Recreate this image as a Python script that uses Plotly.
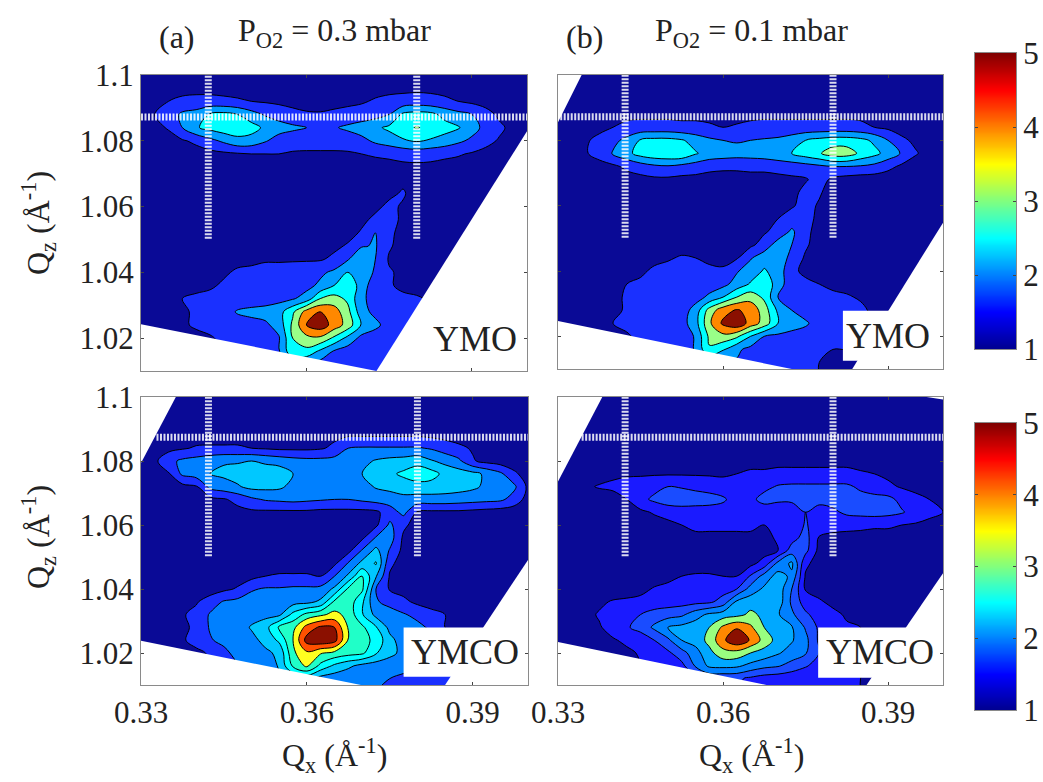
import plotly.graph_objects as go

W, H = 1043, 782
FONT = "Liberation Serif"

# grid of the maps: z rows are listed from the top of the panel (1.100) downward
qx = [round(0.33 + 0.0025 * i, 4) for i in range(29)]
qz = [round(1.008 + 0.004 * j, 3) for j in range(24)]

# values are in tenths of a contour step: 10 = first black line, 20 = second, ...
a_rows = [
[4,4,4,4,4,4,4,4,4,4,4,4,4,4,4,4,4,4,4,4,4,4,4,4,4,4,4,4,4],
[4,4,6,7,7,7,7,7,6,5,5,4,4,4,4,5,6,7,8,8,8,8,7,6,5,4,4,4,4],
[4,6,10,12,13,13,12,11,10,9,8,7,7,6,7,8,9,11,12,13,14,13,12,10,8,6,4,4,4],
[5,10,14,22,24,31,33,30,24,19,16,13,11,11,12,13,14,16,20,32,34,33,27,23,20,14,8,5,4],
[4,7,11,20,29,33,36,36,34,28,24,22,20,16,19,22,25,28,32,35,41,36,34,31,24,17,12,7,4],
[3,4,6,9,12,17,22,27,26,21,16,14,13,13,13,14,17,22,25,29,31,29,26,22,18,13,9,5,4],
[3,4,4,5,6,7,8,9,10,10,10,9,9,9,9,9,10,11,12,13,14,13,12,11,9,7,5,4,4],
[3,3,3,4,4,5,5,6,6,6,6,6,6,6,6,6,6,7,7,8,8,8,7,6,5,4,4,4,4],
[3,3,3,3,3,3,3,4,4,4,4,4,4,4,4,4,4,5,6,8,6,5,4,4,4,4,4,4,4],
[3,3,3,3,3,3,3,4,4,4,4,4,4,4,4,4,5,6,8,11,6,5,4,4,4,4,4,4,4],
[3,3,3,3,3,3,3,4,4,4,4,4,4,4,4,5,6,8,12,9,6,5,4,4,4,4,4,4,4],
[3,3,3,3,3,3,3,4,4,4,4,4,4,4,5,6,8,12,14,8,5,4,4,4,4,4,4,4,4],
[3,3,3,3,3,3,3,4,4,4,4,4,4,5,6,7,11,20,12,7,5,4,4,4,4,4,4,4,4],
[3,3,3,3,3,3,4,4,4,4,4,4,5,6,8,11,19,21,11,7,5,4,4,4,4,4,4,4,4],
[3,3,3,3,3,4,7,8,8,9,9,9,9,9,12,19,30,20,9,7,5,4,4,4,4,4,4,4,4],
[3,3,3,3,4,6,9,11,12,13,13,14,15,18,22,30,29,18,11,8,7,6,5,5,5,5,5,5,5],
[3,3,3,4,7,9,11,12,13,13,14,15,17,22,30,39,25,14,11,8,7,6,5,5,5,5,5,5,5],
[3,4,6,10,12,12,13,14,14,15,17,19,24,40,44,38,22,16,14,12,11,9,7,7,7,7,7,7,7],
[3,5,7,9,11,13,15,21,23,24,26,38,54,60,55,43,24,17,14,12,11,11,10,9,9,9,9,9,9],
[4,5,7,9,11,13,14,15,16,18,24,42,60,66,56,46,29,23,15,12,11,10,10,10,10,10,10,10,10],
[8,8,8,8,8,9,12,13,14,16,19,40,47,48,38,27,17,14,12,11,9,9,9,9,9,9,9,9,9],
[8,8,8,8,8,8,10,12,13,15,19,38,37,28,19,15,13,12,11,8,8,8,8,8,8,8,8,8,8],
[8,8,8,8,8,8,8,10,12,14,16,20,20,16,14,13,12,11,9,8,8,8,8,8,8,8,8,8,8],
[8,8,8,8,8,8,8,8,10,12,14,16,16,14,13,12,12,11,9,8,8,8,8,8,8,8,8,8,8],
]
b_rows = [
[4,4,4,4,4,4,4,4,4,4,4,4,4,4,4,4,4,4,4,4,4,4,4,4,4,4,4,4,4],
[4,4,4,4,4,4,4,4,4,4,4,4,4,4,4,4,4,4,4,4,4,4,4,4,4,4,4,4,4],
[4,4,4,4,5,5,5,5,5,5,5,5,5,5,5,5,5,5,5,6,6,6,5,5,4,4,4,4,4],
[4,4,4,5,7,8,8,8,8,8,8,8,7,7,8,8,8,8,8,8,8,8,8,7,5,4,4,4,4],
[4,4,6,8,10,12,13,13,13,12,12,11,10,11,12,13,13,13,13,13,13,13,12,10,8,6,4,4,4],
[4,5,9,12,17,23,31,33,33,31,26,22,20,19,20,21,22,25,30,33,35,35,33,28,20,12,8,5,4],
[4,6,9,14,21,27,34,37,38,38,31,26,25,24,24,25,27,30,35,39,45,45,38,33,26,19,11,6,4],
[4,4,5,6,8,12,15,18,19,17,15,13,12,12,13,13,14,15,16,18,20,20,19,17,13,8,5,4,4],
[4,4,4,4,5,6,7,8,8,7,7,6,6,6,6,6,7,8,9,14,8,6,5,5,4,4,4,4,4],
[4,4,4,4,4,4,4,4,4,4,4,4,4,4,5,5,6,7,13,11,6,5,4,4,4,4,4,4,4],
[4,4,4,4,4,4,4,4,4,4,4,4,4,4,4,5,6,9,13,9,5,4,4,4,4,4,4,4,4],
[4,4,4,4,4,4,4,4,4,4,4,4,4,4,5,7,10,14,13,8,5,4,4,4,4,4,4,4,4],
[4,4,4,4,4,4,4,4,4,4,4,4,4,5,6,9,13,22,12,7,5,4,4,4,4,4,4,4,4],
[4,4,4,4,4,4,4,4,5,6,6,6,5,6,8,14,25,20,11,7,5,4,4,4,4,4,4,4,4],
[4,4,4,4,4,5,6,7,9,11,10,9,8,9,19,26,30,15,9,6,5,4,4,4,4,4,4,4,4],
[4,4,4,4,5,6,8,12,13,14,13,11,11,19,25,31,26,12,8,7,6,5,4,4,4,4,4,4,4],
[4,4,4,5,7,10,12,13,13,14,14,15,17,24,31,39,24,15,12,10,8,7,6,5,4,4,4,4,4],
[4,4,5,6,8,11,13,14,14,14,16,22,30,40,46,38,20,17,15,13,12,11,9,7,5,5,5,5,5],
[4,4,5,6,8,11,13,14,14,15,24,44,56,61,57,45,28,20,17,15,14,13,12,8,6,6,6,6,6],
[4,5,6,7,10,12,13,14,14,16,26,48,62,68,56,46,30,24,21,17,14,13,12,9,7,7,7,7,7],
[6,6,6,7,8,9,12,13,14,14,21,42,47,42,30,20,18,17,17,15,13,12,11,9,7,7,7,7,7],
[6,6,6,7,8,9,10,12,13,14,21,39,31,22,17,15,14,14,13,12,10,10,9,8,7,7,7,7,7],
[6,6,6,7,8,9,10,11,12,13,16,20,20,19,14,13,13,12,11,10,9,8,7,7,7,7,7,7,7],
[6,6,6,7,8,9,10,11,12,13,14,16,16,15,14,13,13,12,11,10,8,7,7,7,7,7,7,7,7],
]
c_rows = [
[4,4,4,4,4,4,4,4,4,4,4,4,4,4,4,4,4,4,4,4,4,4,4,4,4,4,4,4,4],
[4,4,4,4,4,4,4,4,4,4,4,4,4,4,4,4,4,4,4,4,4,4,4,4,4,4,4,4,4],
[4,4,4,4,4,4,5,5,5,5,5,4,4,5,5,5,5,5,5,5,5,5,5,4,4,4,4,4,4],
[4,4,4,5,6,7,7,7,7,6,6,6,6,7,8,9,9,9,9,9,9,8,7,6,5,4,4,4,4],
[4,4,7,9,11,11,11,11,10,9,8,8,8,9,12,20,21,21,21,21,21,19,15,12,9,6,5,4,4],
[4,8,17,22,24,27,29,29,30,28,26,24,23,23,24,25,27,31,33,34,36,31,27,22,11,7,5,4,4],
[4,6,9,22,25,30,32,34,35,36,36,30,26,25,25,26,30,34,38,42,46,44,37,35,33,28,22,12,5],
[4,4,5,7,9,23,26,29,33,33,32,27,25,24,24,24,26,31,33,35,36,36,35,34,32,28,26,22,8],
[4,4,4,4,5,7,9,13,18,21,22,23,22,21,20,20,22,24,25,27,26,26,26,25,24,23,22,16,6],
[4,4,4,4,4,5,6,7,8,8,8,8,8,7,7,7,7,8,15,23,9,8,8,8,7,6,5,4,4],
[4,4,4,4,4,4,4,4,4,4,4,5,5,5,5,5,6,8,22,12,6,5,4,4,4,4,4,4,4],
[4,4,4,4,4,4,4,4,4,4,4,4,4,5,5,6,8,21,25,8,5,4,4,4,4,4,4,4,4],
[4,4,4,4,4,4,4,4,4,4,4,4,4,5,6,7,21,33,19,7,5,4,4,4,4,4,4,4,4],
[4,4,4,4,4,4,4,4,5,6,6,6,6,6,8,21,33,41,12,6,5,4,4,4,4,4,4,4,4],
[4,4,4,4,4,4,5,6,7,10,11,11,11,10,20,32,50,31,9,6,5,4,4,4,4,4,4,4,4],
[4,4,4,4,4,5,8,11,19,21,21,22,22,23,32,52,52,20,9,7,5,4,4,4,4,4,4,4,4],
[4,4,4,6,9,15,21,23,24,24,25,26,27,32,52,56,42,21,17,12,8,6,5,4,4,4,4,4,4],
[4,4,6,9,13,21,24,25,26,27,28,43,53,58,63,57,41,27,24,21,17,13,10,7,5,4,4,4,4],
[4,5,6,8,12,21,24,25,31,36,52,57,74,82,80,59,52,41,27,25,23,18,10,8,6,5,4,4,4],
[6,6,7,9,13,19,23,26,27,33,42,60,84,88,84,59,54,47,33,25,24,23,20,12,8,6,5,4,4],
[6,6,6,7,8,11,17,24,27,28,32,58,68,61,57,54,52,41,33,27,24,22,20,13,8,6,5,4,4],
[6,6,6,7,8,10,14,20,24,24,31,52,62,47,38,32,27,25,24,23,22,20,14,11,8,6,5,4,4],
[6,6,6,7,8,10,14,20,24,24,28,30,33,26,24,23,22,21,20,18,14,13,12,9,7,6,5,4,4],
[6,6,6,7,8,10,14,20,24,24,26,28,28,25,23,22,21,20,19,16,13,12,11,8,7,6,5,4,4],
]
d_rows = [
[4,4,4,4,4,4,4,4,4,4,4,4,4,4,4,4,4,4,4,4,4,4,4,4,4,4,4,4,4],
[4,4,4,4,4,4,4,4,4,4,4,4,4,4,4,4,4,4,4,4,4,4,4,4,4,4,4,4,4],
[4,4,4,4,4,4,4,4,4,4,4,4,4,4,4,4,4,4,4,4,4,4,4,4,4,4,4,4,4],
[4,4,4,4,4,4,4,4,4,4,4,4,4,4,4,5,5,5,5,5,5,5,4,4,4,4,4,4,4],
[4,4,4,4,4,4,5,5,5,5,5,5,5,5,6,6,7,7,7,7,7,7,6,5,4,4,4,4,4],
[4,4,4,4,5,6,6,6,6,6,6,6,6,7,8,8,8,8,8,8,8,8,7,6,5,4,4,4,4],
[3,3,3,5,8,9,9,9,9,9,9,9,9,10,11,11,12,12,12,12,12,12,11,10,8,7,5,4,4],
[3,4,8,11,12,13,14,17,20,19,17,15,13,13,13,17,21,22,22,22,22,22,18,14,12,9,7,5,4],
[3,3,3,4,6,10,17,22,26,27,26,25,22,14,17,24,22,22,22,23,24,24,24,24,23,17,13,10,5],
[3,3,3,3,4,5,8,11,13,14,14,14,14,13,13,13,13,14,20,16,18,22,23,24,23,21,16,13,10],
[3,3,3,3,3,4,5,6,8,10,12,12,12,12,12,10,11,13,21,15,13,13,13,12,12,10,9,7,6],
[3,3,3,3,3,3,4,5,7,7,8,8,8,8,8,8,11,16,24,9,8,7,6,5,5,4,4,4,4],
[3,3,3,3,3,3,4,4,5,5,5,5,5,5,5,6,10,25,23,7,5,4,4,4,4,4,4,4,4],
[3,3,3,3,3,3,4,4,5,5,6,6,6,6,7,14,33,42,12,6,5,4,4,4,4,4,4,4,4],
[3,3,3,3,3,4,4,5,7,10,11,11,10,10,21,34,44,38,9,6,5,4,4,4,4,4,4,4,4],
[3,3,3,3,4,5,7,11,13,13,14,15,16,20,34,42,46,30,9,7,5,4,4,4,4,4,4,4,4],
[3,3,4,8,11,12,13,14,15,16,17,18,24,42,46,47,46,28,15,11,8,6,5,4,4,4,4,4,4],
[3,4,7,11,13,16,20,24,26,28,36,42,45,47,52,48,41,32,22,15,12,9,7,5,4,4,4,4,4],
[3,5,7,9,14,19,23,32,40,43,45,50,62,69,62,50,43,41,29,18,13,11,10,8,5,4,4,4,4],
[4,5,6,7,9,12,15,20,28,40,44,53,68,78,69,56,46,41,33,18,13,11,10,8,5,4,4,4,4],
[6,6,6,7,8,8,11,14,18,26,36,47,56,56,50,46,41,36,31,20,15,12,10,8,5,4,4,4,4],
[6,6,6,7,8,8,10,12,14,17,31,42,43,42,37,33,31,26,21,16,13,12,11,8,5,4,4,4,4],
[6,6,6,7,8,8,10,12,14,16,20,22,22,22,18,15,14,13,12,11,11,11,10,8,5,4,4,4,4],
[6,6,6,7,8,8,10,12,14,16,20,22,22,21,17,15,14,13,12,11,11,11,10,8,5,4,4,4,4],
]

# filled band colours, one per interval between contour lines
a_bands = ["#0a0a96", "#1a30ff", "#009cff", "#00ffff", "#99ff88", "#ff8800", "#8b1000"]
b_bands = ["#0a0a96", "#1a30ff", "#009cff", "#00ffff", "#99ff88", "#ff8800", "#8b1000"]
c_bands = ["#0a0a96", "#1a30ff", "#0080ff", "#00c8ff", "#00ffff", "#20ffc8", "#ffff20", "#ff5000", "#8b1000"]
d_bands = ["#0a0a96", "#1a1aff", "#1a4cff", "#0080ff", "#00a8ff", "#99ff80", "#ff8800", "#8b1000"]

# white (unmeasured) parts of each panel, as Qx / Qz corner lists
a_mask_x = [[0.33, 0.3727, 0.33], [0.3727, 0.40, 0.40]]
a_mask_y = [[1.0242, 1.01, 1.01], [1.01, 1.0829, 1.01]]
b_mask_x = [[0.33, 0.3343, 0.33], [0.33, 0.3725, 0.33], [0.3835, 0.40, 0.40], [0.3818, 0.40, 0.40, 0.3818]]
b_mask_y = [[1.10, 1.10, 1.0855], [1.0247, 1.01, 1.01], [1.01, 1.0548, 1.01], [1.0125, 1.0125, 1.0278, 1.0278]]
c_mask_x = [[0.33, 0.3363, 0.33], [0.33, 0.3698, 0.33], [0.385, 0.40, 0.40], [0.3775, 0.40, 0.40, 0.3775]]
c_mask_y = [[1.10, 1.10, 1.0794], [1.0238, 1.01, 1.01], [1.01, 1.0491, 1.01], [1.0126, 1.0126, 1.028, 1.028]]
d_mask_x = [[0.33, 0.33805, 0.33], [0.33, 0.3679, 0.33], [0.3861, 0.40, 0.40], [0.3773, 0.40, 0.40, 0.3773], [0.397, 0.40, 0.40]]
d_mask_y = [[1.10, 1.10, 1.0736], [1.0234, 1.01, 1.01], [1.01, 1.0449, 1.01], [1.0123, 1.0123, 1.028, 1.028], [1.10, 1.0992, 1.10]]

# reference Bragg positions (white dotted cross-hairs)
ref_qx = [0.3422, 0.38]
ref_qz_low = 1.0502
ref_qz_top = 1.10
ref_qz = [1.0872, 1.0872, 1.0874, 1.0874]
ref_qx_start = [0.33, 0.3304, 0.3328, 0.3343]

# axes
x_tickvals = [0.33, 0.36, 0.39]
x_ticktext = ["0.33", "0.36", "0.39"]
y_tickvals = [1.02, 1.04, 1.06, 1.08, 1.10]
y_ticktext = ["1.02", "1.04", "1.06", "1.08", "1.1"]
cbar_ticks = [1, 2, 3, 4, 5]
cbar_steps = [round(1 + 0.05 * i, 2) for i in range(81)]
jet = [[0, "#00008f"], [0.125, "#0000ff"], [0.375, "#00ffff"], [0.625, "#ffff00"], [0.875, "#ff0000"], [1, "#800000"]]

# panel frames in page pixels: left, right, top, bottom
frames = [(141, 527, 75, 371), (558, 943, 75, 369), (141, 528, 397, 685), (558, 943, 397, 685)]
panels = [
    (a_rows, a_bands, a_mask_x, a_mask_y),
    (b_rows, b_bands, b_mask_x, b_mask_y),
    (c_rows, c_bands, c_mask_x, c_mask_y),
    (d_rows, d_bands, d_mask_x, d_mask_y),
]
cbar_frames = [(975, 1016, 53, 349), (975, 1016, 423, 710)]

fig = go.Figure()
layout = dict(
    width=W, height=H, autosize=False, margin=dict(l=0, r=0, t=0, b=0),
    paper_bgcolor="white", plot_bgcolor="white", showlegend=False,
    font=dict(family=FONT, size=31, color="#222222"),
)
tick_font = dict(family=FONT, size=31, color="#222222")
frame_style = dict(automargin=False, showline=True, linecolor="#8a8a8a", linewidth=1, showgrid=False,
                   zeroline=False, ticks="inside", ticklen=3, tickcolor="#444444", mirror="ticks",
                   tickfont=tick_font)

for k, (rows, bands, mx, my) in enumerate(panels):
    n = "" if k == 0 else str(k + 1)
    L, R, T, B = frames[k]
    layout["xaxis" + n] = dict(
        domain=[L / W, R / W], range=[0.33, 0.40], anchor="y" + n,
        tickvals=x_tickvals, ticktext=x_ticktext, showticklabels=k >= 2, **frame_style)
    layout["yaxis" + n] = dict(
        domain=[1 - B / H, 1 - T / H], range=[1.01, 1.10], anchor="x" + n,
        tickvals=y_tickvals, ticktext=y_ticktext, showticklabels=k % 2 == 0, **frame_style)
    nb = len(bands)
    fig.add_trace(go.Contour(
        x=qx, y=qz, z=rows[::-1], xaxis="x" + n, yaxis="y" + n,
        autocontour=False, showscale=False, hoverinfo="skip",
        contours=dict(start=10, end=10 * (nb - 1), size=10, coloring="fill", showlines=True),
        line=dict(color="black", width=1, smoothing=1),
        colorscale=[[i / (nb - 1), c] for i, c in enumerate(bands)],
    ))
    for px, py in zip(mx, my):
        fig.add_trace(go.Scatter(
            x=px + px[:1], y=py + py[:1], xaxis="x" + n, yaxis="y" + n, mode="lines",
            fill="toself", fillcolor="white", line=dict(color="white", width=0), hoverinfo="skip",
        ))
    for qv in ref_qx:
        fig.add_trace(go.Scatter(
            x=[qv, qv], y=[ref_qz_low, ref_qz_top], xaxis="x" + n, yaxis="y" + n, mode="lines",
            line=dict(color="rgba(255,255,255,0.85)", width=7, dash="2px,1.5px"), hoverinfo="skip",
        ))
    fig.add_trace(go.Scatter(
        x=[ref_qx_start[k], 0.40], y=[ref_qz[k], ref_qz[k]], xaxis="x" + n, yaxis="y" + n, mode="lines",
        line=dict(color="rgba(255,255,255,0.85)", width=7, dash="2px,1.5px"), hoverinfo="skip",
    ))

# the two colour bars, drawn on their own small axes
for j, (L, R, T, B) in enumerate(cbar_frames):
    n = str(5 + j)
    layout["xaxis" + n] = dict(domain=[L / W, R / W], range=[0, 1], anchor="y" + n, showticklabels=False,
                               automargin=False, showline=True, linecolor="#8a8a8a", linewidth=1, mirror=True,
                               showgrid=False, zeroline=False, ticks="")
    layout["yaxis" + n] = dict(domain=[1 - B / H, 1 - T / H], range=[1, 5], anchor="x" + n, side="right",
                               tickvals=cbar_ticks, ticktext=[str(t) for t in cbar_ticks], **frame_style)
    fig.add_trace(go.Heatmap(
        x=[0, 1], y=cbar_steps, z=[[v, v] for v in cbar_steps], xaxis="x" + n, yaxis="y" + n,
        zmin=1, zmax=5, colorscale=jet, showscale=False, hoverinfo="skip", zsmooth="best",
    ))

def note(text, x, y, size=32, angle=0):
    return dict(text=text, x=x / W, y=1 - y / H, xref="paper", yref="paper", showarrow=False,
                xanchor="center", yanchor="middle", textangle=angle,
                font=dict(family=FONT, size=size, color="#222222"))

layout["annotations"] = [
    note("(a)", 177, 37),
    note("(b)", 584, 37),
    note("P<sub>O2</sub> = 0.3 mbar", 334, 32),
    note("P<sub>O2</sub> = 0.1 mbar", 751, 32),
    note("Q<sub>x</sub> (Å<sup>-1</sup>)", 334, 755),
    note("Q<sub>x</sub> (Å<sup>-1</sup>)", 751, 755),
    note("Q<sub>z</sub> (Å<sup>-1</sup>)", 38, 223, angle=-90),
    note("Q<sub>z</sub> (Å<sup>-1</sup>)", 38, 537, angle=-90),
    note("YMO", 475, 339, size=36),
    note("YMO", 888, 336, size=36),
    note("YMCO", 465, 652, size=36),
    note("YMCO", 880, 652, size=36),
]
fig.update_layout(**layout)
fig.write_html("out.html", config={"displayModeBar": False},
               post_script="document.body.style.margin='0';")
